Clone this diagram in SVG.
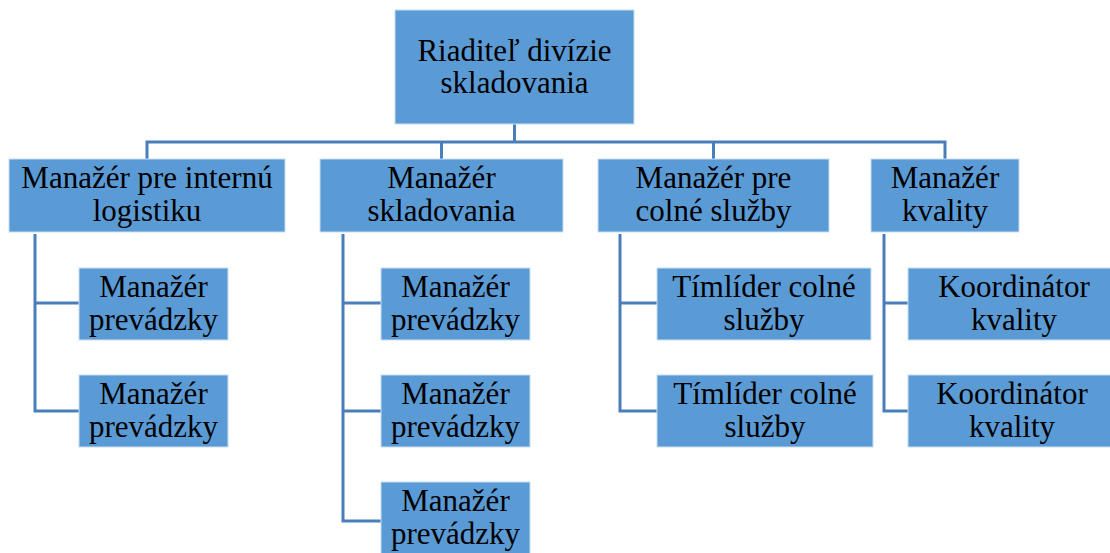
<svg xmlns="http://www.w3.org/2000/svg" width="1110" height="553" viewBox="0 0 1110 553">
<style>
.box{fill:#5B9BD5;stroke:#C9DDF2;stroke-width:1}
.t{font-family:"Liberation Serif","Times New Roman",serif;font-size:31px;fill:#000;text-anchor:middle}
.c{fill:none;stroke:#4A7EBB;stroke-width:3}
</style>
<rect width="1110" height="553" fill="#fff"/>
<g id="connectors">
<path class="c" d="M514.5 124 V142 M147 159 V142 H945 V159 M441.5 142 V159 M713.5 142 V159"/>
<path class="c" d="M35 234 V411 H79 M35 303 H79"/>
<path class="c" d="M343 234 V521 H381 M343 303 H381 M343 411 H381"/>
<path class="c" d="M620 234 V411 H657 M620 303 H657"/>
<path class="c" d="M884 234 V411 H908 M884 303 H908"/>
</g>
<g id="n-root"><rect class="box" x="395" y="10" width="239" height="114"/><text class="t" x="514.5" y="61">Riaditeľ divízie</text><text class="t" x="514.5" y="93">skladovania</text></g>
<g id="n-logistika"><rect class="box" x="9" y="159" width="276" height="73"/><text class="t" x="147" y="188">Manažér pre internú</text><text class="t" x="147" y="221">logistiku</text></g>
<g id="n-sklad"><rect class="box" x="320" y="159" width="243" height="73"/><text class="t" x="441.5" y="188">Manažér</text><text class="t" x="441.5" y="221">skladovania</text></g>
<g id="n-colne"><rect class="box" x="598" y="159" width="231" height="73"/><text class="t" x="713.5" y="188">Manažér pre</text><text class="t" x="713.5" y="221">colné služby</text></g>
<g id="n-kvalita"><rect class="box" x="871" y="159" width="148" height="73"/><text class="t" x="945" y="188">Manažér</text><text class="t" x="945" y="221">kvality</text></g>
<g id="n-l1"><rect class="box" x="79" y="268" width="149" height="72"/><text class="t" x="153.5" y="297">Manažér</text><text class="t" x="153.5" y="330">prevádzky</text></g>
<g id="n-l2"><rect class="box" x="79" y="375" width="149" height="72"/><text class="t" x="153.5" y="404">Manažér</text><text class="t" x="153.5" y="437">prevádzky</text></g>
<g id="n-s1"><rect class="box" x="381" y="268" width="149" height="72"/><text class="t" x="455.5" y="297">Manažér</text><text class="t" x="455.5" y="330">prevádzky</text></g>
<g id="n-s2"><rect class="box" x="381" y="375" width="149" height="72"/><text class="t" x="455.5" y="404">Manažér</text><text class="t" x="455.5" y="437">prevádzky</text></g>
<g id="n-s3"><rect class="box" x="381" y="482" width="149" height="80"/><text class="t" x="455.5" y="511">Manažér</text><text class="t" x="455.5" y="544">prevádzky</text></g>
<g id="n-c1"><rect class="box" x="657" y="268" width="214" height="72"/><text class="t" x="764" y="297">Tímlíder colné</text><text class="t" x="764" y="330">služby</text></g>
<g id="n-c2"><rect class="box" x="657" y="375" width="216" height="72"/><text class="t" x="765" y="404">Tímlíder colné</text><text class="t" x="765" y="437">služby</text></g>
<g id="n-k1"><rect class="box" x="908" y="268" width="210" height="72"/><text class="t" x="1014" y="297">Koordinátor</text><text class="t" x="1014" y="330">kvality</text></g>
<g id="n-k2"><rect class="box" x="908" y="375" width="210" height="72"/><text class="t" x="1012" y="404">Koordinátor</text><text class="t" x="1012" y="437">kvality</text></g>
</svg>
